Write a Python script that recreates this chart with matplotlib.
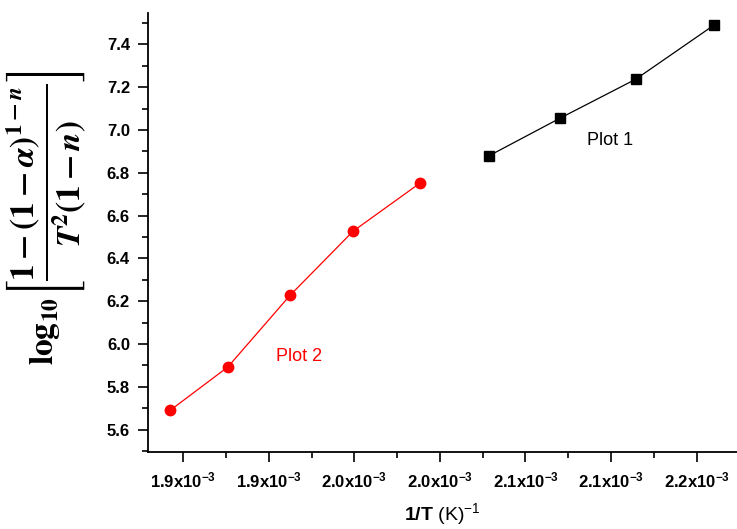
import matplotlib
matplotlib.use("Agg")
import matplotlib.pyplot as plt
from matplotlib.ticker import FixedLocator, MultipleLocator

# Data
x_plot1 = [2.0284e-3, 2.0700e-3, 2.1145e-3, 2.1603e-3]
y_plot1 = [6.878, 7.054, 7.237, 7.490]

x_plot2 = [1.8422e-3, 1.8760e-3, 1.9123e-3, 1.9492e-3, 1.9882e-3]
y_plot2 = [5.690, 5.893, 6.227, 6.527, 6.751]

x_ticks = [1.85e-3, 1.90e-3, 1.95e-3, 2.00e-3, 2.05e-3, 2.10e-3, 2.15e-3]
x_tick_labels = ["1.9", "1.9", "2.0", "2.0", "2.1", "2.1", "2.2"]
y_ticks = [5.6, 5.8, 6.0, 6.2, 6.4, 6.6, 6.8, 7.0, 7.2, 7.4]

plt.rcParams["font.family"] = ["Liberation Sans", "DejaVu Sans"]
plt.rcParams["mathtext.fontset"] = "custom"
plt.rcParams["mathtext.rm"] = "Liberation Sans"
plt.rcParams["mathtext.bf"] = "Liberation Sans:bold"
plt.rcParams["mathtext.it"] = "Liberation Sans:italic"

fig = plt.figure(figsize=(7.37, 5.29), dpi=100)
ax = fig.add_axes([0.2008, 0.1456, 0.80, 0.8298])

ax.plot(x_plot1, y_plot1, color="black", linewidth=0.9, marker="s", markersize=6.5)
ax.plot(x_plot2, y_plot2, color="#ff0000", linewidth=0.9, marker="o", markersize=7.5)

ax.text(2.086e-3, 6.95, "Plot 1", color="black", fontsize=13, ha="left", va="center")
ax.text(1.904e-3, 5.94, "Plot 2", color="#ff0000", fontsize=13, ha="left", va="center")

ax.set_xlim(1.8293e-3, 2.174e-3)
ax.set_ylim(5.496, 7.546)

ax.xaxis.set_major_locator(FixedLocator(x_ticks))
ax.set_xticklabels([r"$\mathbf{" + s + r"x10}^{\mathbf{-3}}$" for s in x_tick_labels])
ax.xaxis.set_minor_locator(MultipleLocator(0.025e-3))
ax.set_yticks(y_ticks)
ax.set_yticklabels(["%.1f" % v for v in y_ticks])
ax.yaxis.set_minor_locator(MultipleLocator(0.1))

for lab in ax.get_xticklabels() + ax.get_yticklabels():
    lab.set_fontweight("bold")
    lab.set_fontsize(12)

ax.tick_params(which="major", direction="out", length=7, width=1.2, pad=6)
ax.tick_params(which="minor", direction="out", length=4, width=1.2)

ax.spines["top"].set_visible(False)
ax.spines["right"].set_visible(False)
ax.spines["left"].set_linewidth(1.3)
ax.spines["bottom"].set_linewidth(1.3)

ax.set_xlabel(r"$\mathbf{1/T}$ (K)$^{-1}$", fontsize=14, labelpad=8)
ax.set_ylabel(r"$\mathbf{log_{10}}\left[\dfrac{\mathbf{1-(1-}\boldsymbol{\alpha}\mathbf{)}^{\mathbf{1-}\boldsymbol{n}}}"
              r"{\boldsymbol{T}^{\mathbf{2}}\mathbf{(1-}\boldsymbol{n}\mathbf{)}}\right]$",
              fontsize=24, math_fontfamily="stix")
ax.yaxis.set_label_coords(-0.102, 0.534)

fig.savefig("out.png", dpi=100)
